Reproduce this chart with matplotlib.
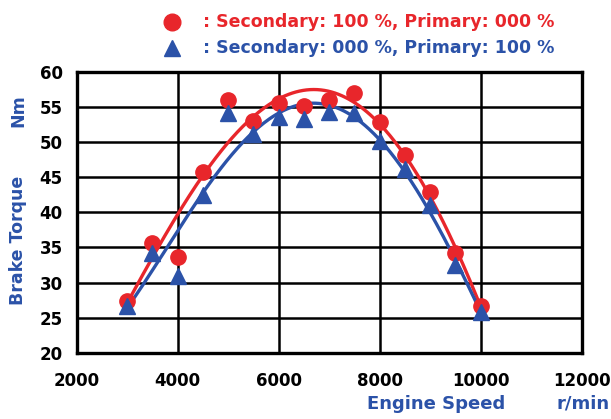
import numpy as np
import matplotlib.pyplot as plt

# engine speed (r/min) and brake torque (Nm)
speed = np.array([3000, 3500, 4000, 4500, 5000, 5500, 6000, 6500, 7000, 7500,
                  8000, 8500, 9000, 9500, 10000])
torque_sec = np.array([27.4, 35.7, 33.6, 45.7, 56.0, 53.0, 55.6, 55.1, 56.0, 57.0,
                       52.8, 48.2, 42.9, 34.2, 26.7])
torque_pri = np.array([26.7, 34.2, 31.0, 42.5, 54.1, 51.2, 53.6, 53.3, 54.3, 54.1,
                       50.2, 46.2, 41.0, 32.5, 25.8])

xticks = [2000, 4000, 6000, 8000, 10000, 12000]
yticks = [20, 25, 30, 35, 40, 45, 50, 55, 60]

red = '#e8262b'
blue = '#2b52a8'

fig = plt.figure(figsize=(6.11, 4.19), dpi=100)
ax = fig.add_axes([0.1255, 0.1575, 0.8265, 0.6715])

# trend lines (polynomial fit of the measured points)
xs = np.linspace(speed.min(), speed.max(), 200)
fit_sec = np.polyval(np.polyfit(speed, torque_sec, 4), xs)
fit_pri = np.polyval(np.polyfit(speed, torque_pri, 4), xs)

ax.plot(xs, fit_sec, color=red, lw=2.4, zorder=3)
ax.plot(xs, fit_pri, color=blue, lw=2.4, zorder=3)
ax.plot(speed, torque_sec, 'o', color=red, ms=11, zorder=4)
ax.plot(speed, torque_pri, '^', color=blue, ms=11, zorder=5)

ax.set_xlim(2000, 12000)
ax.set_ylim(20, 60)
ax.set_xticks(xticks)
ax.set_yticks(yticks)
ax.grid(color='black', linewidth=1.8)
ax.set_axisbelow(True)
for s in ax.spines.values():
    s.set_linewidth(2.4)
ax.tick_params(length=0, labelsize=12)
ax.tick_params(axis='x', pad=14)
ax.tick_params(axis='y', pad=10)
for lab in ax.get_xticklabels() + ax.get_yticklabels():
    lab.set_fontweight('bold')

# axis captions
fig.text(0.03, 0.427, 'Brake Torque', rotation=90, color=blue, fontsize=12.5,
         fontweight='bold', ha='center', va='center')
fig.text(0.03, 0.737, 'Nm', rotation=90, color=blue, fontsize=12.5,
         fontweight='bold', ha='center', va='center')
fig.text(0.713, 0.024, 'Engine Speed', color=blue, fontsize=13,
         fontweight='bold', ha='center', va='baseline')
fig.text(0.954, 0.024, 'r/min', color=blue, fontsize=13,
         fontweight='bold', ha='center', va='baseline')

# legend drawn as text rows
fig.lines.append(plt.Line2D([0.282], [0.948], marker='o', color=red, ms=12,
                            transform=fig.transFigure))
fig.lines.append(plt.Line2D([0.282], [0.885], marker='^', color=blue, ms=12,
                            transform=fig.transFigure))
fig.text(0.333, 0.948, ': Secondary: 100 %, Primary: 000 %', color=red,
         fontsize=12.5, fontweight='bold', va='center')
fig.text(0.333, 0.885, ': Secondary: 000 %, Primary: 100 %', color=blue,
         fontsize=12.5, fontweight='bold', va='center')

fig.savefig('out.png', dpi=100)
